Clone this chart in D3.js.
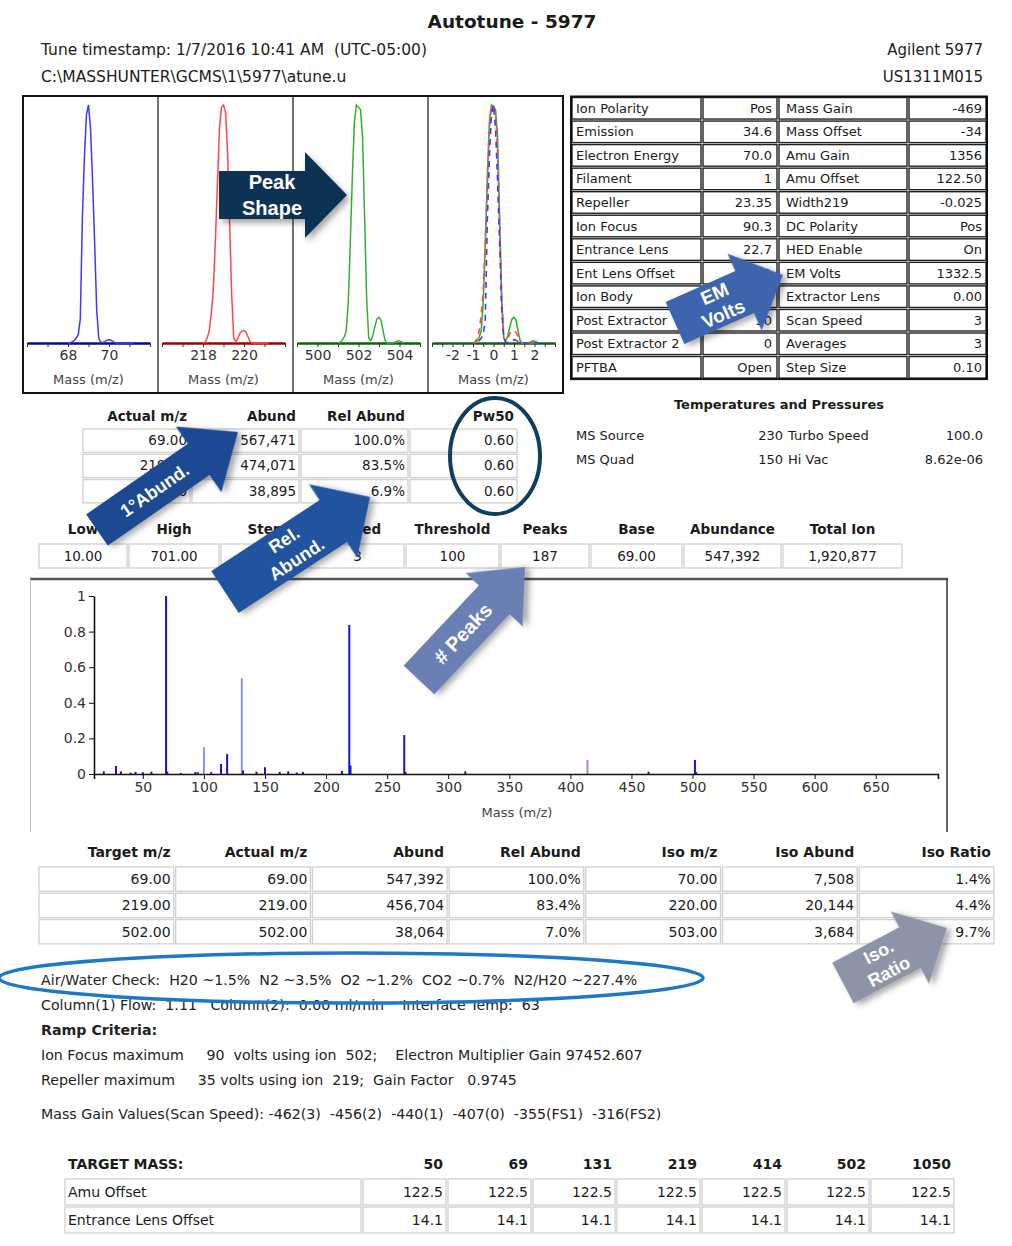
<!DOCTYPE html>
<html>
<head>
<meta charset="utf-8">
<script src="https://cdn.jsdelivr.net/npm/d3@7"></script>
<style>
  body { margin: 0; background: #fff; }
  svg { display: block; font-family: "DejaVu Sans", Verdana, sans-serif; }
  text { white-space: pre; }
</style>
</head>
<body>
<svg id="page" width="1012" height="1246"></svg>
<script>
// ---------- data ----------
const peakTargets = [69, 219, 502];
const profileOffsets = [-1.0, -0.9, -0.8, -0.7, -0.6, -0.5, -0.4, -0.3, -0.2, -0.1, 0.0,
  0.1, 0.2, 0.3, 0.4, 0.5, 0.6, 0.7, 0.8, 0.9, 1.0, 1.1, 1.2, 1.3, 1.4, 1.5, 1.6, 1.7,
  1.8, 1.9, 2.0, 2.1, 2.2];
const profile69 = [0, 0, 0.005, 0.01, 0.02, 0.035, 0.1, 0.52, 0.78, 0.96, 1.0, 0.9, 0.68,
  0.42, 0.14, 0.02, 0.003, 0.002, 0.006, 0.012, 0.014, 0.012, 0.006, 0.001, 0, 0, 0, 0,
  0, 0, 0, 0, 0];
const profile219 = [0, 0.003, 0.02, 0.05, 0.12, 0.22, 0.42, 0.66, 0.9, 0.99, 1.0, 0.97,
  0.8, 0.5, 0.2, 0.02, 0.005, 0.02, 0.04, 0.05, 0.052, 0.045, 0.025, 0.005, 0, 0, 0, 0,
  0, 0, 0, 0, 0];
const profile502 = [0, 0.003, 0.01, 0.025, 0.05, 0.17, 0.42, 0.7, 0.93, 1.0, 0.99, 0.98,
  0.86, 0.52, 0.18, 0.02, 0.01, 0.03, 0.07, 0.1, 0.108, 0.095, 0.05, 0.01, 0, 0, 0, 0,
  0.004, 0.008, 0.008, 0.004, 0];
const peakTickLabels = [[68, 70], [218, 220], [500, 502, 504], [-2, -1, 0, 1, 2]];

const paramRows = [
  ["Ion Polarity", "Pos", "Mass Gain", "-469"],
  ["Emission", "34.6", "Mass Offset", "-34"],
  ["Electron Energy", "70.0", "Amu Gain", "1356"],
  ["Filament", "1", "Amu Offset", "122.50"],
  ["Repeller", "23.35", "Width219", "-0.025"],
  ["Ion Focus", "90.3", "DC Polarity", "Pos"],
  ["Entrance Lens", "22.7", "HED Enable", "On"],
  ["Ent Lens Offset", "14.1", "EM Volts", "1332.5"],
  ["Ion Body", "12.0", "Extractor Lens", "0.00"],
  ["Post Extractor", "30", "Scan Speed", "3"],
  ["Post Extractor 2", "0", "Averages", "3"],
  ["PFTBA", "Open", "Step Size", "0.10"]
];

const tuneHead = ["Actual m/z", "Abund", "Rel Abund", "Pw50"];
const tuneRows = [
  ["69.00", "567,471", "100.0%", "0.60"],
  ["219.00", "474,071", "83.5%", "0.60"],
  ["502.00", "38,895", "6.9%", "0.60"]
];

const tempRows = [
  ["MS Source", "230", "Turbo Speed", "100.0"],
  ["MS Quad", "150", "Hi Vac", "8.62e-06"]
];

const scanHead = ["Low", "High", "Step", "Speed", "Threshold", "Peaks", "Base", "Abundance", "Total Ion"];
const scanVals = ["10.00", "701.00", "0.10", "3", "100", "187", "69.00", "547,392", "1,920,877"];

const specMz = [18, 28, 32, 40, 44, 50, 57, 69, 70, 81, 93, 95, 100, 106, 114, 119, 131, 132,
  143, 150, 162, 169, 176, 181, 213, 219, 220, 264, 265, 314, 414, 464, 502, 503];
const specAbund = [0.015, 0.045, 0.015, 0.008, 0.012, 0.01, 0.013, 1.0, 0.014, 0.006, 0.012,
  0.01, 0.15, 0.01, 0.056, 0.112, 0.538, 0.02, 0.013, 0.038, 0.012, 0.015, 0.008, 0.012,
  0.017, 0.837, 0.047, 0.219, 0.012, 0.015, 0.079, 0.013, 0.079, 0.01];
const specTicks = [50, 100, 150, 200, 250, 300, 350, 400, 450, 500, 550, 600, 650];
const specRange = [10, 701];

const isoHead = ["Target m/z", "Actual m/z", "Abund", "Rel Abund", "Iso m/z", "Iso Abund", "Iso Ratio"];
const isoRows = [
  ["69.00", "69.00", "547,392", "100.0%", "70.00", "7,508", "1.4%"],
  ["219.00", "219.00", "456,704", "83.4%", "220.00", "20,144", "4.4%"],
  ["502.00", "502.00", "38,064", "7.0%", "503.00", "3,684", "9.7%"]
];

const notes = [
  "Air/Water Check:  H20 ~1.5%  N2 ~3.5%  O2 ~1.2%  CO2 ~0.7%  N2/H20 ~227.4%",
  "Column(1) Flow:  1.11   Column(2):  0.00 ml/min    Interface Temp:  63",
  "Ramp Criteria:",
  "Ion Focus maximum     90  volts using ion  502;    Electron Multiplier Gain 97452.607",
  "Repeller maximum     35 volts using ion  219;  Gain Factor   0.9745",
  "Mass Gain Values(Scan Speed): -462(3)  -456(2)  -440(1)  -407(0)  -355(FS1)  -316(FS2)"
];

const massHead = ["TARGET MASS:", "50", "69", "131", "219", "414", "502", "1050"];
const massRows = [
  ["Amu Offset", "122.5", "122.5", "122.5", "122.5", "122.5", "122.5", "122.5"],
  ["Entrance Lens Offset", "14.1", "14.1", "14.1", "14.1", "14.1", "14.1", "14.1"]
];

// ---------- drawing ----------
const svg = d3.select("#page");
const ink = "#1b1b1b";

const defs = svg.append("defs");
defs.append("filter").attr("id", "shadow")
  .attr("x", "-30%").attr("y", "-30%").attr("width", "160%").attr("height", "160%")
  .append("feDropShadow")
  .attr("dx", 3).attr("dy", 4).attr("stdDeviation", 3)
  .attr("flood-color", "#000").attr("flood-opacity", 0.35);

function label(g, x, y, t, opts = {}) {
  return g.append("text")
    .attr("x", x).attr("y", y)
    .attr("text-anchor", opts.anchor || "start")
    .attr("font-size", opts.size || 13)
    .attr("font-weight", opts.bold ? "bold" : null)
    .attr("fill", opts.fill || ink)
    .text(t);
}

function cells(g, xs, y0, rowH, nRows, stroke, sw) {
  for (let r = 0; r < nRows; r++) {
    for (let c = 0; c < xs.length - 1; c++) {
      g.append("rect")
        .attr("x", xs[c] + 1).attr("y", y0 + r * rowH + 1)
        .attr("width", xs[c + 1] - xs[c] - 2).attr("height", rowH - 2)
        .attr("fill", "none").attr("stroke", stroke).attr("stroke-width", sw);
    }
  }
}

// header
label(svg, 512, 28, "Autotune - 5977", { anchor: "middle", size: 18.5, bold: true });
label(svg, 41, 55, "Tune timestamp: 1/7/2016 10:41 AM  (UTC-05:00)", { size: 15.5 });
label(svg, 41, 82, "C:\\MASSHUNTER\\GCMS\\1\\5977\\atune.u", { size: 15.5 });
label(svg, 983, 55, "Agilent 5977", { anchor: "end", size: 15 });
label(svg, 983, 82, "US1311M015", { anchor: "end", size: 15 });

// peak shape panels
const panelX = [23, 158, 293, 428, 563];
const panelDomains = [[66, 72], [216, 222], [499, 505], [-3, 3]];
const traceColors = ["#3b3bff", "#ff4848", "#34b034"];
const baseColors = ["#0a0a8a", "#a00000", "#0a640a", "#1d5a1d"];
const profiles = [profile69, profile219, profile502];
const panels = svg.append("g");

panelDomains.forEach((dom, i) => {
  const x = d3.scaleLinear().domain(dom).range([panelX[i] + 4, panelX[i + 1] - 8]);
  const y = d3.scaleLinear().domain([0, 1]).range([343, 105]);
  const step = i === 3 ? 0.5 : 1;
  const ax = panels.append("g")
    .attr("transform", "translate(0,343)")
    .call(d3.axisBottom(x)
      .tickValues(d3.range(dom[0], dom[1] + step / 2, step))
      .tickSize(4).tickSizeOuter(0).tickPadding(3)
      .tickFormat(d => peakTickLabels[i].includes(d) ? d : ""));
  ax.select(".domain").attr("stroke", baseColors[i]).attr("stroke-width", 2.5);
  ax.selectAll(".tick line").attr("stroke", "#333");
  ax.selectAll(".tick text").attr("font-size", 14).attr("fill", "#333")
    .attr("font-family", "\"DejaVu Sans\", Verdana, sans-serif");

  const line = d3.line().x(d => x(d[0])).y(d => y(d[1]));
  if (i < 3) {
    const pts = profileOffsets.map((o, k) => [peakTargets[i] + o, profiles[i][k]]);
    panels.append("path").attr("d", line(pts))
      .attr("fill", "none").attr("stroke", traceColors[i]).attr("stroke-width", 1.5);
  } else {
    [2, 1, 0].forEach(j => {
      const pts = profileOffsets.map((o, k) => [o, profiles[j][k]]);
      panels.append("path").attr("d", line(pts))
        .attr("fill", "none").attr("stroke", traceColors[j])
        .attr("stroke-width", 1.6)
        .attr("stroke-dasharray", j === 2 ? null : "6,5")
        .attr("stroke-dashoffset", j === 0 ? 5 : 0);
    });
  }
  label(panels, (panelX[i] + panelX[i + 1]) / 2 - 2, 384, "Mass (m/z)", { anchor: "middle", fill: "#444" });
});
panelX.slice(1, 4).forEach(px => {
  panels.append("line").attr("x1", px).attr("x2", px).attr("y1", 96).attr("y2", 393)
    .attr("stroke", "#444").attr("stroke-width", 1.5);
});
panels.append("rect").attr("x", 23).attr("y", 96).attr("width", 540).attr("height", 297)
  .attr("fill", "none").attr("stroke", "#111").attr("stroke-width", 2);

// parameter table
const paramG = svg.append("g");
const pCols = [571, 702, 778, 908, 987];
const pTop = 96.5, pRowH = 23.55;
cells(paramG, pCols, pTop, pRowH, paramRows.length, "#222", 1.4);
paramG.append("rect").attr("x", 571).attr("y", pTop).attr("width", 416).attr("height", pRowH * 12)
  .attr("fill", "none").attr("stroke", "#111").attr("stroke-width", 2);
paramRows.forEach((r, k) => {
  const yb = pTop + k * pRowH + pRowH / 2 + 4.5;
  label(paramG, 576, yb, r[0]);
  label(paramG, 772, yb, r[1], { anchor: "end" });
  label(paramG, 786, yb, r[2]);
  label(paramG, 982, yb, r[3], { anchor: "end" });
});

// tune ion table
const tuneG = svg.append("g");
const tCols = [82, 191, 300, 409, 518];
cells(tuneG, tCols, 428, 25.3, tuneRows.length, "#cfcfcf", 1.3);
tuneHead.forEach((h, c) => label(tuneG, tCols[c + 1] - 4, 421, h, { anchor: "end", bold: true, size: 13.5 }));
tuneRows.forEach((r, k) => r.forEach((v, c) =>
  label(tuneG, tCols[c + 1] - 4, 428 + k * 25.3 + 17, v, { anchor: "end", size: 13.5 })));

// temperatures
const tempG = svg.append("g");
label(tempG, 779, 409, "Temperatures and Pressures", { anchor: "middle", bold: true });
tempRows.forEach((r, k) => {
  const yb = 440 + k * 24;
  label(tempG, 576, yb, r[0]);
  label(tempG, 783, yb, r[1], { anchor: "end" });
  label(tempG, 788, yb, r[2]);
  label(tempG, 983, yb, r[3], { anchor: "end" });
});

// scan table
const scanG = svg.append("g");
const sCols = [38, 128, 220, 310, 405, 500, 590, 683, 782, 903];
cells(scanG, sCols, 543, 26, 1, "#cfcfcf", 1.3);
scanHead.forEach((h, c) => label(scanG, (sCols[c] + sCols[c + 1]) / 2, 534, h, { anchor: "middle", bold: true, size: 13.5 }));
scanVals.forEach((v, c) => label(scanG, (sCols[c] + sCols[c + 1]) / 2, 561, v, { anchor: "middle", size: 13.5 }));

// spectrum
const specG = svg.append("g");
specG.append("line").attr("x1", 30).attr("x2", 948).attr("y1", 579).attr("y2", 579)
  .attr("stroke", "#555").attr("stroke-width", 2.5);
specG.append("line").attr("x1", 30.5).attr("x2", 30.5).attr("y1", 579).attr("y2", 832)
  .attr("stroke", "#bbb").attr("stroke-width", 1);
specG.append("line").attr("x1", 947).attr("x2", 947).attr("y1", 579).attr("y2", 832)
  .attr("stroke", "#333").attr("stroke-width", 1.5);

const xs = d3.scaleLinear().domain(specRange).range([94, 938]);
const ys = d3.scaleLinear().domain([0, 1]).range([774, 596]);
const faint = new Set([100, 131, 414]);
specG.append("g").selectAll("line")
  .data(specMz)
  .join("line")
  .attr("x1", d => xs(d)).attr("x2", d => xs(d))
  .attr("y1", ys(0)).attr("y2", (d, i) => ys(specAbund[i]))
  .attr("stroke", d => faint.has(d) ? "#8c8cff" : "#1414d6")
  .attr("stroke-width", 2);

const yAx = specG.append("g").attr("transform", "translate(94,0)")
  .call(d3.axisLeft(ys).tickValues([0, 0.2, 0.4, 0.6, 0.8, 1]).tickFormat(d3.format("~g"))
    .tickSize(5).tickSizeOuter(0).tickPadding(3));
const xAx = specG.append("g").attr("transform", "translate(0,774)")
  .call(d3.axisBottom(xs).tickValues(specTicks).tickSize(5).tickSizeOuter(5).tickPadding(3));
[yAx, xAx].forEach(a => {
  a.select(".domain").attr("stroke", "#111").attr("stroke-width", 1.6);
  a.selectAll(".tick line").attr("stroke", "#111");
  a.selectAll(".tick text").attr("font-size", 14).attr("fill", "#333")
    .attr("font-family", "\"DejaVu Sans\", Verdana, sans-serif");
});
label(specG, 517, 817, "Mass (m/z)", { anchor: "middle", fill: "#444" });

// iso table
const isoG = svg.append("g");
const iCols = d3.range(8).map(k => 38 + k * 136.7);
cells(isoG, iCols, 866, 26.3, isoRows.length, "#cfcfcf", 1.3);
isoHead.forEach((h, c) => label(isoG, iCols[c + 1] - 4, 857, h, { anchor: "end", bold: true, size: 14 }));
isoRows.forEach((r, k) => r.forEach((v, c) =>
  label(isoG, iCols[c + 1] - 4, 866 + k * 26.3 + 18, v, { anchor: "end", size: 14 })));

// notes
const noteG = svg.append("g");
const noteY = [985, 1010, 1035, 1060, 1085, 1119];
notes.forEach((t, k) => label(noteG, 41, noteY[k], t, { bold: k === 2, fill: "#222", size: 14.2 }));

// target mass table
const massG = svg.append("g");
const mCols = [64, 362, 447, 532, 616, 701, 786, 870, 955];
cells(massG, mCols, 1178, 28, massRows.length, "#cfcfcf", 1.3);
massHead.forEach((h, c) => c === 0
  ? label(massG, 68, 1169, h, { bold: true, size: 14 })
  : label(massG, mCols[c + 1] - 4, 1169, h, { anchor: "end", bold: true, size: 14 }));
massRows.forEach((r, k) => r.forEach((v, c) => c === 0
  ? label(massG, 68, 1178 + k * 28 + 19, v, { size: 14 })
  : label(massG, mCols[c + 1] - 4, 1178 + k * 28 + 19, v, { anchor: "end", size: 14 })));

// ---------- annotations ----------
const annot = svg.append("g");

function blockArrow(a) {
  const dx = a.tip[0] - a.tail[0], dy = a.tip[1] - a.tail[1];
  const L = Math.hypot(dx, dy), ang = Math.atan2(dy, dx) * 180 / Math.PI;
  const s = L - a.headLen;
  const pts = [[0, -a.body / 2], [s, -a.body / 2], [s, -a.head / 2], [L, 0],
    [s, a.head / 2], [s, a.body / 2], [0, a.body / 2]];
  const g = annot.append("g").attr("transform", `translate(${a.tail}) rotate(${ang})`);
  g.append("polygon").attr("points", pts.map(p => p.join(",")).join(" "))
    .attr("fill", a.fill).attr("filter", "url(#shadow)");
  a.lines.forEach((t, i) => {
    g.append("text")
      .attr("x", a.textAt)
      .attr("y", (i - (a.lines.length - 1) / 2) * a.lh + a.size * 0.36)
      .attr("text-anchor", "middle")
      .attr("font-family", "\"Liberation Sans\", Arial, sans-serif")
      .attr("font-weight", "bold").attr("font-size", a.size)
      .attr("fill", "#fff").text(t);
  });
}

blockArrow({ tail: [219, 195], tip: [347, 195], body: 48, head: 86, headLen: 42,
  fill: "#0f3352", lines: ["Peak", "Shape"], size: 20, lh: 26, textAt: 53 });
blockArrow({ tail: [97, 530], tip: [238, 432], body: 38, head: 80, headLen: 48,
  fill: "#1c4a91", lines: ["1°Abund."], size: 18, lh: 22, textAt: 70 });
blockArrow({ tail: [225, 592], tip: [370, 497], body: 50, head: 88, headLen: 44,
  fill: "#23539e", lines: ["Rel.", "Abund."], size: 18, lh: 23, textAt: 78 });
blockArrow({ tail: [419, 680], tip: [525, 567], body: 42, head: 78, headLen: 45,
  fill: "#6a7fb3", lines: ["# Peaks"], size: 20, lh: 22, textAt: 64 });
blockArrow({ tail: [675, 323], tip: [783, 275], body: 46, head: 84, headLen: 42,
  fill: "#3c65ae", lines: ["EM", "Volts"], size: 19, lh: 22, textAt: 48 });
blockArrow({ tail: [843, 983], tip: [947, 928], body: 46, head: 82, headLen: 42,
  fill: "#8d94a8", lines: ["Iso.", "Ratio"], size: 18, lh: 22, textAt: 46 });

annot.append("ellipse").attr("cx", 495).attr("cy", 456).attr("rx", 45).attr("ry", 58)
  .attr("fill", "none").attr("stroke", "#123d5c").attr("stroke-width", 4);
annot.append("ellipse").attr("cx", 351).attr("cy", 978).attr("rx", 352).attr("ry", 25)
  .attr("fill", "none").attr("stroke", "#1c78c9").attr("stroke-width", 3.5);
</script>
</body>
</html>
